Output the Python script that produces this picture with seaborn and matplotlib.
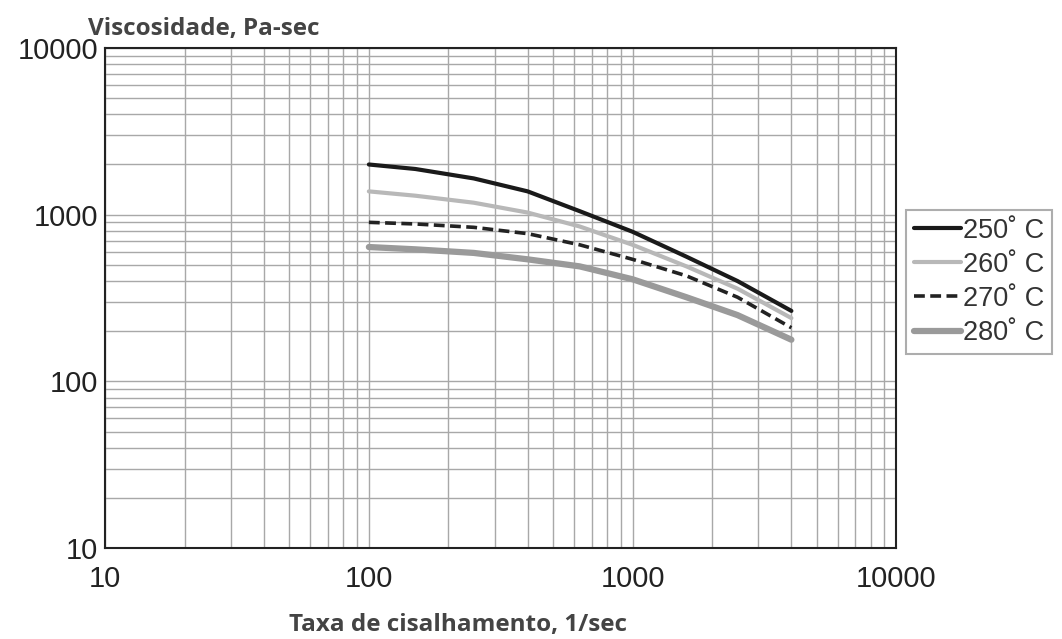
import numpy as np
import pandas as pd
import matplotlib
matplotlib.use('Agg')
import matplotlib.pyplot as plt
import seaborn as sns
from matplotlib.ticker import LogLocator, FixedLocator, NullFormatter

# shear rate (1/sec) and viscosity (Pa-sec)
shear = [100, 150, 250, 400, 630, 1000, 1600, 2500, 4000]
visc_250 = [2000, 1880, 1650, 1380, 1050, 790, 560, 400, 265]
visc_260 = [1380, 1300, 1180, 1030, 850, 660, 490, 360, 240]
visc_270 = [900, 880, 840, 770, 660, 540, 430, 320, 210]
visc_280 = [640, 620, 590, 540, 490, 410, 320, 250, 178]
labels = ['250˚ C', '260˚ C', '270˚ C', '280˚ C']
x_ticks = [10, 100, 1000, 10000]
y_ticks = [10, 100, 1000, 10000]

sns.set_style('white')
plt.rcParams['font.family'] = ['Liberation Sans', 'DejaVu Sans']

fig = plt.figure(figsize=(10.62, 6.39), dpi=100)
ax = fig.add_axes([0.099, 0.142, 0.745, 0.783])

styles = [
    dict(color='#1a1a1a', lw=3.0, ls='-'),
    dict(color='#b8b8b8', lw=3.0, ls='-'),
    dict(color='#222222', lw=2.6, ls=(0, (3, 1.5))),
    dict(color='#9a9a9a', lw=4.5, ls='-'),
]
for vals, lab, st in zip([visc_250, visc_260, visc_270, visc_280], labels, styles):
    sns.lineplot(x=shear, y=vals, ax=ax, label=lab, color=st['color'],
                 linewidth=st['lw'], linestyle=st['ls'])

ax.set_xscale('log')
ax.set_yscale('log')
ax.set_xlim(10, 10000)
ax.set_ylim(10, 10000)
ax.xaxis.set_major_locator(FixedLocator(x_ticks))
ax.yaxis.set_major_locator(FixedLocator(y_ticks))
ax.set_xticklabels([str(t) for t in x_ticks])
ax.set_yticklabels([str(t) for t in y_ticks])
ax.xaxis.set_minor_locator(LogLocator(base=10, subs=np.arange(2, 10)))
ax.yaxis.set_minor_locator(LogLocator(base=10, subs=np.arange(2, 10)))
ax.xaxis.set_minor_formatter(NullFormatter())
ax.yaxis.set_minor_formatter(NullFormatter())
ax.grid(True, which='both', color='#a8a8a8', linewidth=1.0)
ax.set_axisbelow(True)
ax.tick_params(axis='both', which='both', length=0, labelsize=21, colors='#222222')
ax.tick_params(axis='x', pad=12)
ax.tick_params(axis='y', pad=5)
for sp in ax.spines.values():
    sp.set_color('#222222')
    sp.set_linewidth(1.5)
ax.set_xlabel('')
ax.set_ylabel('')

fig.text(0.083, 0.955, 'Viscosidade, Pa-sec', fontsize=17.5, fontweight='bold',
         color='#444444', ha='left', va='center', family=['Open Sans', 'DejaVu Sans'])
fig.text(0.431, 0.022, 'Taxa de cisalhamento, 1/sec', fontsize=17.5, fontweight='bold',
         color='#444444', ha='center', va='center', family=['Open Sans', 'DejaVu Sans'])

leg = ax.legend(loc='upper left', bbox_to_anchor=(0.853, 0.672),
                bbox_transform=fig.transFigure, fontsize=19.5, frameon=True,
                fancybox=False, handlelength=1.75, handletextpad=0.05,
                labelspacing=0.3, borderpad=0.3, borderaxespad=0)
leg.get_frame().set_edgecolor('#999999')
leg.get_frame().set_linewidth(1.5)
for t in leg.get_texts():
    t.set_color('#333333')

fig.savefig('out.png', dpi=100)
